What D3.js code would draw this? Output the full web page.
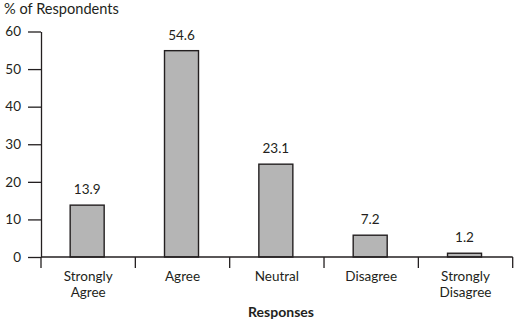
<!DOCTYPE html>
<html><head><meta charset="utf-8">
<script src="https://cdn.jsdelivr.net/npm/d3@7"></script>
<style>body{margin:0;background:#fff}svg{display:block}text{font-family:Lato,"Open Sans",sans-serif;fill:#231f20}</style>
</head><body><svg id="c" width="523" height="322"></svg>
<script>
const categories = [["Strongly","Agree"],["Agree"],["Neutral"],["Disagree"],["Strongly","Disagree"]];
const barValues = [13.8, 54.9, 24.7, 5.8, 1.0];
const valueLabels = ["13.9", "54.6", "23.1", "7.2", "1.2"];
const yTicks = [0, 10, 20, 30, 40, 50, 60];
const yTitle = "% of Respondents";
const xTitle = "Responses";

const svg = d3.select("#c");
const ink = "#231f20";
const font = 'Lato,"Open Sans",sans-serif';
const keys = categories.map(d => d.join(" "));
const x = d3.scaleBand().domain(keys).range([41, 512.7]).padding(0);
const y = d3.scaleLinear().domain([0, 60]).range([257, 31.5]);
const barW = 34;

// y axis
const ya = svg.append("g").attr("transform", "translate(41,0)")
  .call(d3.axisLeft(y).tickValues(yTicks).tickSize(13).tickPadding(7).tickSizeOuter(0));
ya.select(".domain").attr("stroke", ink).attr("stroke-width", 1.3);
ya.selectAll(".tick line").attr("stroke", ink).attr("stroke-width", 1.3);
ya.selectAll(".tick text").style("font-size", "13.5px").attr("fill", ink).style("font-family", font);

// bars
svg.append("g").selectAll("rect").data(barValues).join("rect")
  .attr("x", (d, i) => x(keys[i]) + (x.bandwidth() - barW) / 2 - 1)
  .attr("y", d => y(d))
  .attr("width", barW)
  .attr("height", d => y(0) - y(d))
  .attr("fill", "#b5b5b5").attr("stroke", ink).attr("stroke-width", 1.4);

// x axis
svg.append("line").attr("x1", 41).attr("x2", x.range()[1]).attr("y1", y(0)).attr("y2", y(0))
  .attr("stroke", ink).attr("stroke-width", 1.3);
const bounds = keys.map(k => x(k)).concat([x.range()[1]]);
svg.append("g").selectAll("line").data(bounds).join("line")
  .attr("x1", d => d).attr("x2", d => d).attr("y1", y(0)).attr("y2", y(0) + 11)
  .attr("stroke", ink).attr("stroke-width", 1.3);

// category labels
const cl = svg.append("g").selectAll("text").data(categories).join("text")
  .attr("text-anchor", "middle").style("font-size", "13.5px")
  .attr("transform", (d, i) => `translate(${x(keys[i]) + x.bandwidth() / 2},281)`);
cl.selectAll("tspan").data(d => d).join("tspan")
  .attr("x", 0).attr("y", (d, j) => j * 16.3).text(d => d);

// value labels
svg.append("g").selectAll("text").data(barValues).join("text")
  .attr("text-anchor", "middle").style("font-size", "13.5px")
  .attr("x", (d, i) => x(keys[i]) + x.bandwidth() / 2 - 1)
  .attr("y", d => y(d) - 11)
  .text((d, i) => valueLabels[i]);

// titles
svg.append("text").attr("x", 4).attr("y", 14).style("font-size", "14.6px").text(yTitle);
svg.append("text").attr("x", 281).attr("y", 317).attr("text-anchor", "middle")
  .style("font-size", "14px").style("font-weight", "bold").text(xTitle);
</script></body></html>
